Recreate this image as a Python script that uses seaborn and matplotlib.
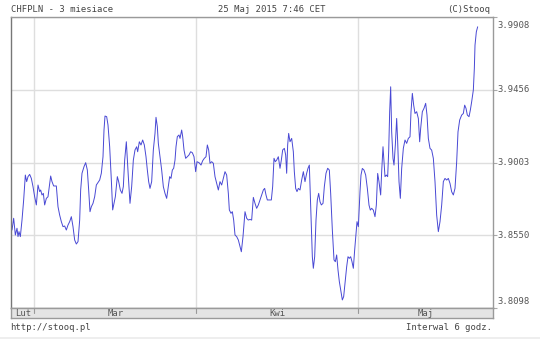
import matplotlib
matplotlib.use("Agg")
import matplotlib.pyplot as plt
from matplotlib.patches import Rectangle
import seaborn as sns
import pandas as pd

# ---- data (trading-day index from 2 Mar 2015, CHF/PLN price) ----
t_days = [
    -3.061, -2.834, -2.607, -2.381, -2.245, -2.109, -1.927, -1.700, -1.474, -1.247,
    -1.065, -0.884, -0.657, -0.430, -0.204, 0.023, 0.250, 0.477, 0.703, 0.839,
    1.021, 1.202, 1.383, 1.610, 1.837, 2.064, 2.200, 2.381, 2.608, 2.971,
    3.198, 3.424, 3.651, 3.878, 4.105, 4.331, 4.558, 4.785, 5.012, 5.238,
    5.465, 5.692, 5.919, 6.146, 6.281, 6.463, 6.735, 6.962, 7.189, 7.370,
    7.551, 7.733, 7.960, 8.186, 8.413, 8.640, 8.867, 9.093, 9.320, 9.456,
    9.592, 9.819, 10.000, 10.227, 10.454, 10.635, 10.817, 10.998, 11.270, 11.452,
    11.678, 11.905, 12.086, 12.268, 12.494,
    12.766, 12.993, 13.220, 13.447, 13.673, 13.900, 14.036, 14.263, 14.490, 14.717,
    14.943, 15.170, 15.352, 15.533, 15.714, 15.941, 16.168, 16.395, 16.531, 16.712,
    16.848, 17.075, 17.302, 17.528, 17.755, 17.982, 18.209, 18.390, 18.571, 18.753,
    18.934, 19.116, 19.252, 19.433, 19.660, 19.796, 20.023, 20.159, 20.340, 20.567,
    20.794, 21.020, 21.247, 21.474, 21.701, 21.927, 22.109, 22.381, 22.653, 22.880,
    23.107, 23.333, 23.515, 23.696, 23.878, 24.104, 24.331, 24.558, 24.785, 25.011,
    25.238, 25.465, 25.692, 25.918, 26.145, 26.372, 26.508, 26.735, 26.916, 27.097,
    27.279, 27.506, 27.732, 27.959, 28.141, 28.367,
    28.639, 28.866, 29.093, 29.320, 29.546, 29.773, 30.000, 30.227, 30.453, 30.680,
    30.907, 31.134, 31.315, 31.496, 31.678, 31.950, 32.222, 32.403, 32.585, 32.766,
    32.948, 33.174, 33.401, 33.583, 33.764, 33.991, 34.172, 34.308, 34.444, 34.580,
    34.762, 34.989, 35.215, 35.351, 35.533, 35.714, 35.896, 36.122, 36.349, 36.576,
    36.803, 37.029, 37.211, 37.392, 37.528, 37.664, 37.800, 37.936, 38.118, 38.299,
    38.480, 38.662, 38.843, 39.025, 39.252, 39.433, 39.660, 39.887, 40.113, 40.295,
    40.522, 40.748, 40.930, 41.111, 41.293, 41.474, 41.655, 41.882, 42.063, 42.245,
    42.472, 42.653, 42.834, 43.016, 43.197, 43.379, 43.560, 43.741, 43.878, 44.059,
    44.285, 44.421, 44.603, 44.829, 45.056, 45.283, 45.510, 45.691, 45.873, 46.099,
    46.326, 46.507, 46.689, 46.870, 47.097, 47.233, 47.415, 47.551, 47.687, 47.868,
    48.049, 48.186, 48.322, 48.458, 48.594, 48.775, 48.911, 49.093, 49.274, 49.410,
    49.592, 49.773, 49.955, 50.181, 50.408, 50.635, 50.861, 51.088, 51.224, 51.406,
    51.587, 51.768, 51.995, 52.222, 52.403, 52.539, 52.766, 52.993, 53.220, 53.401,
    53.582, 53.809, 54.036, 54.263, 54.490, 54.716, 54.943, 55.170, 55.397, 55.623,
    55.850, 56.077, 56.304, 56.530, 56.757, 56.984, 57.211, 57.438, 57.619, 57.846,
    58.118, 58.345, 58.526, 58.707, 58.889, 59.116, 59.297, 59.478, 59.705, 59.841,
    59.932, 60.113, 60.295,
]
price = [
    3.8583, 3.8656, 3.8552, 3.8594, 3.8542, 3.8573, 3.8542, 3.8645, 3.8770, 3.8925,
    3.8884, 3.8915, 3.8929, 3.8904, 3.8853, 3.8790, 3.8739, 3.8863, 3.8822, 3.8832,
    3.8801, 3.8811, 3.8739, 3.8780, 3.8790, 3.8873, 3.8919, 3.8884, 3.8857, 3.8857,
    3.8728, 3.8676, 3.8635, 3.8604, 3.8608, 3.8583, 3.8614, 3.8635, 3.8666, 3.8604,
    3.8521, 3.8496, 3.8511, 3.8645, 3.8832, 3.8936, 3.8977, 3.9002, 3.8956, 3.8832,
    3.8697, 3.8728, 3.8749, 3.8790, 3.8863, 3.8878, 3.8894, 3.8936, 3.9039, 3.9205,
    3.9292, 3.9288, 3.9236, 3.9101, 3.8894, 3.8708, 3.8749, 3.8790, 3.8915, 3.8884,
    3.8832, 3.8811, 3.8853, 3.9018, 3.9132,
    3.8915, 3.8749, 3.8853, 3.9018, 3.9081, 3.9101, 3.9070, 3.9132, 3.9112, 3.9143,
    3.9112, 3.9039, 3.8956, 3.8884, 3.8842, 3.8884, 3.9081, 3.9184, 3.9284, 3.9226,
    3.9122, 3.9039, 3.8956, 3.8853, 3.8811, 3.8780, 3.8853, 3.8915, 3.8904, 3.8956,
    3.8967, 3.9018, 3.9101, 3.9164, 3.9174, 3.9153, 3.9205, 3.9164, 3.9081, 3.9029,
    3.9039, 3.9050, 3.9070, 3.9064, 3.9039, 3.8946, 3.9008, 3.9002, 3.8987, 3.9014,
    3.9029, 3.9039, 3.9112, 3.9081, 3.8998, 3.9008, 3.8998, 3.8915, 3.8873, 3.8832,
    3.8884, 3.8863, 3.8904, 3.8946, 3.8925, 3.8811, 3.8708, 3.8687, 3.8697, 3.8645,
    3.8552, 3.8542, 3.8521, 3.8480, 3.8448, 3.8542,
    3.8697, 3.8656, 3.8645, 3.8649, 3.8645, 3.8786, 3.8749, 3.8718, 3.8739, 3.8770,
    3.8801, 3.8832, 3.8842, 3.8801, 3.8770, 3.8770, 3.8770, 3.8853, 3.9029, 3.9008,
    3.9018, 3.9039, 3.8967, 3.9018, 3.9081, 3.9091, 3.9050, 3.8936, 3.9112, 3.9184,
    3.9132, 3.9153, 3.9070, 3.8946, 3.8842, 3.8822, 3.8842, 3.8832, 3.8894, 3.8946,
    3.8884, 3.8936, 3.8967, 3.8987, 3.8790, 3.8583, 3.8417, 3.8345, 3.8417, 3.8645,
    3.8770, 3.8811, 3.8759, 3.8739, 3.8749, 3.8853, 3.8936, 3.8967, 3.8956, 3.8811,
    3.8583, 3.8397, 3.8386, 3.8428, 3.8334, 3.8262, 3.8210, 3.8148, 3.8169, 3.8251,
    3.8355, 3.8417, 3.8407, 3.8417, 3.8386, 3.8345, 3.8459, 3.8562, 3.8635, 3.8604,
    3.8821, 3.8925, 3.8966, 3.8956, 3.8925, 3.8842, 3.8738, 3.8707, 3.8718, 3.8707,
    3.8666, 3.8738, 3.8935, 3.8884, 3.8801, 3.8946, 3.9101, 3.9008, 3.8915, 3.8925,
    3.8915, 3.9070, 3.9319, 3.9474, 3.9194, 3.9029, 3.8987, 3.9112, 3.9277, 3.9132,
    3.8884, 3.8780, 3.8966, 3.9091, 3.9143, 3.9122, 3.9153, 3.9163, 3.9319, 3.9433,
    3.9360, 3.9308, 3.9319, 3.9277, 3.9132, 3.9215, 3.9319, 3.9340, 3.9371, 3.9298,
    3.9153, 3.9091, 3.9080, 3.9029, 3.8884, 3.8676, 3.8573, 3.8635, 3.8738, 3.8884,
    3.8904, 3.8894, 3.8904, 3.8873, 3.8821, 3.8801, 3.8842, 3.9008, 3.9194, 3.9267,
    3.9298, 3.9308, 3.9360, 3.9340, 3.9298, 3.9288, 3.9329, 3.9381, 3.9454, 3.9588,
    3.9733, 3.9816, 3.9847,
]
y_ticks = [3.8098, 3.8550, 3.9003, 3.9456, 3.9908]
y_tick_labels = ["3.8098", "3.8550", "3.9003", "3.9456", "3.9908"]
month_labels = ["Lut", "Mar", "Kwi", "Maj"]
month_starts = [0, 22, 44]          # trading-day index of 1 Mar, 1 Apr, 1 May
x_range = (-3.197, 62.38)

title_left = "CHFPLN - 3 miesiace"
title_mid = "25 Maj 2015 7:46 CET"
title_right = "(C)Stooq"
foot_left = "http://stooq.pl"
foot_right = "Interwal 6 godz."

# ---- figure ----
sns.set_style("white")
plt.rcParams["font.family"] = ["DejaVu Sans Mono", "DejaVu Sans"]

W, H = 540, 339
fig = plt.figure(figsize=(W / 100, H / 100), dpi=100)
fig.patch.set_facecolor("white")

def fx(px):
    return px / W

def fy(py):
    return 1 - py / H

L, R, T, B = 11, 493, 17, 308
ax = fig.add_axes([fx(L), fy(B), fx(R - L), (B - T) / H])
df = pd.DataFrame({"t": t_days, "price": price})
sns.lineplot(data=df, x="t", y="price", ax=ax, color="#4848d4",
             linewidth=0.7, estimator=None, sort=False)
ax.set_xlim(*x_range)
ax.set_ylim(y_ticks[0], y_ticks[-1])
ax.set_xlabel("")
ax.set_ylabel("")
ax.set_xticks(month_starts)
ax.set_xticklabels([])
ax.set_yticks(y_ticks)
ax.set_yticklabels([])
ax.grid(True, color="#dedede", linewidth=1.0)
ax.set_axisbelow(True)
ax.tick_params(axis="x", length=0)
ax.tick_params(axis="y", which="both", left=False, right=True, length=3,
               color="#aaaaaa", direction="out")
for s in ax.spines.values():
    s.set_color("#9a9a9a")
    s.set_linewidth(1.0)
ax.spines["left"].set_color("#777777")

# y labels on the right
for v, lab in zip(y_ticks, y_tick_labels):
    py = B - (v - y_ticks[0]) / (y_ticks[-1] - y_ticks[0]) * (B - T)
    if v == y_ticks[-1]:
        py += 8
    elif v == y_ticks[0]:
        py -= 6
    fig.text(fx(497), fy(py), lab, fontsize=6.4, color="#555555",
             ha="left", va="center")

# month strip
strip = fig.add_axes([fx(L), fy(318), fx(R - L), 10 / H])
strip.set_xlim(*x_range)
strip.set_ylim(0, 1)
strip.set_facecolor("#e4e4e4")
strip.set_xticks([])
strip.set_yticks([])
for s in strip.spines.values():
    s.set_color("#9a9a9a")
    s.set_linewidth(1.0)
for m in month_starts:
    strip.plot([m, m], [0.55, 1.0], color="#999999", lw=0.8)
edges = [x_range[0]] + month_starts + [x_range[1]]
for lab, a, b in zip(month_labels, edges[:-1], edges[1:]):
    strip.text((a + b) / 2, 0.45, lab, fontsize=6.4, color="#555555",
               ha="center", va="center")

# header / footer
fig.text(fx(11), fy(9), title_left, fontsize=6.4, color="#444444",
         ha="left", va="center")
fig.text(fx(218), fy(9), title_mid, fontsize=6.4, color="#444444",
         ha="left", va="center")
fig.text(fx(490), fy(9), title_right, fontsize=6.4, color="#444444",
         ha="right", va="center")
fig.text(fx(10), fy(328), foot_left, fontsize=6.4, color="#444444",
         ha="left", va="center")
fig.text(fx(492), fy(328), foot_right, fontsize=6.4, color="#444444",
         ha="right", va="center")

fig.add_artist(Rectangle((0, 0), 1, 2 / H, transform=fig.transFigure,
                         facecolor="#eeeeee", edgecolor="none"))

fig.savefig("out.png", dpi=100)
